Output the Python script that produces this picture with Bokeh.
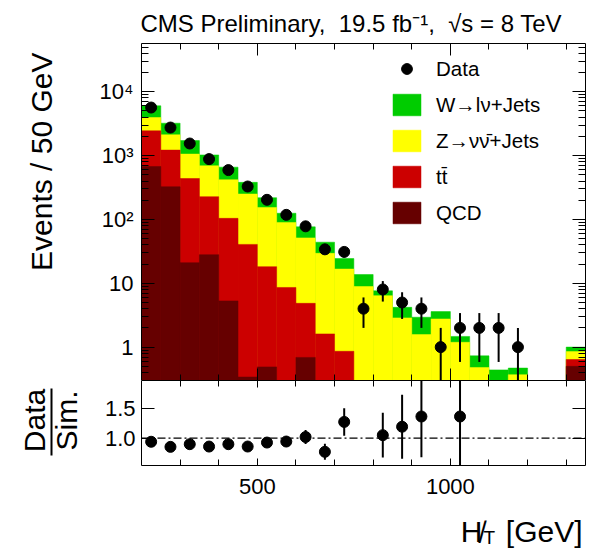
import numpy as np
from math import pi
from bokeh.plotting import figure
from bokeh.layouts import column, row
from bokeh.models import (Range1d, FixedTicker, LinearAxis, LogAxis, Legend,
                          LegendItem, Span, ColumnDataSource, NumeralTickFormatter,
                          CustomJSTickFormatter)
from bokeh.core.properties import value
from bokeh.embed import file_html
from bokeh.resources import INLINE

# ---------------- data ----------------
bin_low = [200, 250, 300, 350, 400, 450, 500, 550, 600, 650, 700, 750, 800,
           850, 900, 950, 1000, 1050, 1100, 1150, 1200, 1250, 1300]
bin_width = 50
data_counts = [5660, 2750, 1546, 881, 593, 328, 203, 118, 78, 34, 31, 4, 8,
               5, 4, 1, 2, 2, 2, 1, 0, 0, 0]
qcd = [675, 325, 21, 28, 5.3, 0.34, 0.49, 0, 0.69, 0, 0, 0, 0,
       0, 0, 0, 0, 0, 0, 0, 0, 0, 0.5]
ttbar = [1769, 894, 417, 199, 98.7, 40.3, 17.7, 8.6, 4.16, 1.61, 0.86, 0, 0,
         0, 0, 0, 0, 0, 0, 0, 0, 0, 0.14]
znunu = [1506, 898, 618, 465, 314, 209.4, 135.8, 81.1, 46.55, 27.8, 15.84, 8.9, 6.4,
         2.87, 1.57, 2.76, 1.19, 0.48, 0.30, 0.37, 0, 0, 0.21]
wlnu = [2071, 1099, 662, 332, 241, 131, 65, 35.3, 25.1, 14.6, 7.7, 4.8, 1.22,
        1.33, 1.37, 0.84, 0.28, 0.25, 0.14, 0.10, 0, 0, 0.15]

title_text = "CMS Preliminary,\u00a0 19.5 fb\u207b\u00b9,\u00a0 \u221as = 8 TeV"
legend_labels = ["Data", "W\u2192l\u03bd+Jets", "Z\u2192\u03bd\u03bd\u0304+Jets", "tt\u0304", "QCD"]
main_y_ticks = [1, 10, 100, 1000, 10000]
main_y_tick_labels = ["1", "10", "10\u00b2", "10\u00b3", "10\u2074"]
x_major_ticks = [500, 1000]
x_minor_ticks = [300, 400, 600, 700, 800, 900, 1100, 1200, 1300]
ratio_ticks = [1.0, 1.5]
y_title = "Events / 50 GeV"
ratio_title = ["Data", "Sim."]
x_title = ["H\u0338", "T", "[GeV]"]

colors = {"W": "#00cc00", "Z": "#ffff00", "TT": "#cc0000", "QCD": "#660000"}
FONT = "Liberation Sans"

# ---------------- ranges / geometry ----------------
XMIN, XMAX = 200, 1350
YMIN, YMAX = 0.3, 5.7e4
RMIN, RMAX = 0.545, 1.96
FLOOR = 1e-3
SIDE_W = 90                     # helper column holding the y titles
P1_H, P2_H, PC_H = 380, 125, 49
TOTAL_W = 596
F1_TOP, F1_BOT = 43, 380        # main frame (page y)
F2_TOP, F2_BOT = 380, 465       # ratio frame (page y)
PC_TOP = P1_H + P2_H            # x-title strip top (page y)

lo = np.array(bin_low, dtype=float)
hi = lo + bin_width
xc = lo + bin_width / 2.0
n = np.array(data_counts, dtype=float)
c_qcd = np.array(qcd, dtype=float)
c_tt = c_qcd + np.array(ttbar)
c_z = c_tt + np.array(znunu)
c_w = c_z + np.array(wlnu)

minor_log = []
for d in [0.1, 1, 10, 100, 1000, 10000]:
    for m in range(2, 10):
        minor_log.append(m * d)

blank = CustomJSTickFormatter(code="return ''")

def style_axis(ax, major_in, minor_in, labels=True, size="22px", standoff=8):
    ax.major_tick_in = major_in
    ax.major_tick_out = 0
    ax.minor_tick_in = minor_in
    ax.minor_tick_out = 0
    ax.axis_line_color = "black"
    ax.axis_line_width = 1
    ax.major_tick_line_color = "black"
    ax.minor_tick_line_color = "black"
    ax.axis_label = None
    if labels:
        ax.major_label_text_font = FONT
        ax.major_label_text_font_size = size
        ax.major_label_text_color = "black"
        ax.major_label_standoff = standoff
    else:
        ax.formatter = blank
        ax.major_label_text_font_size = "1px"
        ax.major_label_standoff = 0

def helper(width, height, frame_h):
    # helper canvas whose frame (aligned by the layout) gets pixel-like ranges
    h = figure(width=width, height=height, title=None,
               x_range=Range1d(0, width), y_range=Range1d(0, frame_h),
               x_axis_type=None, y_axis_type=None,
               min_border=0, min_border_left=0, min_border_right=0,
               min_border_top=0, min_border_bottom=0,
               output_backend="svg", toolbar_location=None)
    h.outline_line_color = None
    h.grid.visible = False
    return h

def htext(fig, x, y, text, size, align, angle=0.0):
    fig.text(x=[x], y=[y], text=[text], angle=angle, text_align=align,
             text_baseline="middle", text_font=value(FONT),
             text_font_size=value(size), text_color="black")

# ---------------- main panel ----------------
p1 = figure(width=TOTAL_W - SIDE_W, height=P1_H, x_range=Range1d(XMIN, XMAX),
            y_range=Range1d(YMIN, YMAX), y_axis_type="log",
            output_backend="svg", toolbar_location=None,
            min_border_left=141 - SIDE_W, min_border_right=TOTAL_W - 585,
            min_border_top=F1_TOP, min_border_bottom=0)
p1.xgrid.visible = False
p1.ygrid.visible = False
p1.outline_line_color = None

p1.title.text = title_text
p1.title.align = "left"
p1.title.offset = -1
p1.title.standoff = 13
p1.title.text_font = FONT
p1.title.text_font_size = "24px"
p1.title.text_font_style = "normal"
p1.title.text_color = "black"

stack_renderers = {}
for key, top in [("W", c_w), ("Z", c_z), ("TT", c_tt), ("QCD", c_qcd)]:
    m = top > 0
    src = ColumnDataSource(dict(left=lo[m], right=hi[m], top=top[m],
                                bottom=np.full(m.sum(), FLOOR)))
    stack_renderers[key] = p1.quad(left="left", right="right", top="top", bottom="bottom",
                                   source=src, fill_color=colors[key],
                                   line_color=colors[key], line_width=0.5)

md = n > 0
err = np.sqrt(n[md])
p1.segment(x0=xc[md], x1=xc[md], y0=np.maximum(n[md] - err, FLOOR), y1=n[md] + err,
           line_color="black", line_width=2)
r_data = p1.scatter(x=xc[md], y=n[md], size=11, marker="circle",
                    fill_color="black", line_color="black")

ylog_ticker = FixedTicker(ticks=main_y_ticks, minor_ticks=minor_log)
x_ticker = FixedTicker(ticks=x_major_ticks, minor_ticks=x_minor_ticks)

ly = p1.yaxis[0]
ly.ticker = ylog_ticker
ly.major_label_overrides = {t: s for t, s in zip(main_y_ticks, main_y_tick_labels)}
style_axis(ly, 13, 7, labels=True, standoff=8)

bx = p1.xaxis[0]
bx.ticker = x_ticker
style_axis(bx, 12, 6, labels=False)

ry = LogAxis(ticker=ylog_ticker)
style_axis(ry, 13, 7, labels=False)
p1.add_layout(ry, "right")
tx = LinearAxis(ticker=x_ticker)
style_axis(tx, 12, 6, labels=False)
p1.add_layout(tx, "above")

legend = Legend(items=[
    LegendItem(label=legend_labels[0], renderers=[r_data]),
    LegendItem(label=legend_labels[1], renderers=[stack_renderers["W"]]),
    LegendItem(label=legend_labels[2], renderers=[stack_renderers["Z"]]),
    LegendItem(label=legend_labels[3], renderers=[stack_renderers["TT"]]),
    LegendItem(label=legend_labels[4], renderers=[stack_renderers["QCD"]]),
], location=(248, 154), padding=0, margin=0, spacing=9, glyph_width=35,
    glyph_height=27, label_height=27, label_standoff=12, label_text_font=FONT,
    label_text_font_size="20.5px", label_text_color="black",
    background_fill_alpha=0, border_line_alpha=0)
p1.add_layout(legend)

# helper column with the main y title (its frame is aligned to page y 43..380)
pb = helper(SIDE_W, P1_H, F1_BOT - F1_TOP)
htext(pb, 41, F1_BOT - 52, y_title, "30px", "right", angle=pi / 2)

# ---------------- ratio panel ----------------
p2 = figure(width=TOTAL_W - SIDE_W, height=P2_H, x_range=p1.x_range,
            y_range=Range1d(RMIN, RMAX), output_backend="svg", toolbar_location=None,
            min_border_left=141 - SIDE_W, min_border_right=TOTAL_W - 585,
            min_border_top=0, min_border_bottom=P2_H - (F2_BOT - F2_TOP))
p2.xgrid.visible = False
p2.ygrid.visible = False
p2.outline_line_color = None

p2.add_layout(Span(location=1.0, dimension="width", line_color="black",
                   line_width=1.2, line_dash="8 3 2 3"))

mr = (n > 0) & (c_w > 0)
safe_tot = np.where(c_w > 0, c_w, 1)
ratio = np.where(mr, n / safe_tot, 0)
rerr = np.where(mr, np.sqrt(n) / safe_tot, 0)
show = mr & (ratio >= RMIN) & (ratio <= RMAX)
p2.segment(x0=xc[show], x1=xc[show], y0=ratio[show] - rerr[show],
           y1=ratio[show] + rerr[show], line_color="black", line_width=2)
p2.scatter(x=xc[show], y=ratio[show], size=11, marker="circle",
           fill_color="black", line_color="black")

r_ticker = FixedTicker(ticks=ratio_ticks, minor_ticks=[])
ly2 = p2.yaxis[0]
ly2.ticker = r_ticker
ly2.formatter = NumeralTickFormatter(format="0.0")
style_axis(ly2, 13, 7, labels=True, standoff=6)
bx2 = p2.xaxis[0]
bx2.ticker = x_ticker
style_axis(bx2, 7, 6, labels=True, standoff=13)
ry2 = LinearAxis(ticker=r_ticker)
style_axis(ry2, 13, 7, labels=False)
p2.add_layout(ry2, "right")
tx2 = LinearAxis(ticker=x_ticker)
style_axis(tx2, 7, 6, labels=False)
p2.add_layout(tx2, "above")

# helper column with the ratio y title (frame aligned to page y 380..465)
pa = helper(SIDE_W, P2_H, F2_BOT - F2_TOP)
htext(pa, 34, F2_BOT - 420, ratio_title[0], "30px", "center", angle=pi / 2)
htext(pa, 66, F2_BOT - 420, ratio_title[1], "30px", "center", angle=pi / 2)
pa.segment(x0=[51], x1=[51], y0=[F2_BOT - 388], y1=[F2_BOT - 455],
           line_color="black", line_width=2)

# helper row with the x title (full-canvas frame, page y 505..554)
pc = helper(TOTAL_W, PC_H, PC_H)
pc_bottom = PC_TOP + PC_H
htext(pc, 482, pc_bottom - 531, x_title[0], "30px", "right")
htext(pc, 483, pc_bottom - 537, x_title[1], "19px", "left")
htext(pc, 582, pc_bottom - 531, x_title[2], "30px", "right")

layout = column(row(pb, p1, spacing=0), row(pa, p2, spacing=0), pc, spacing=0)
open("out.html", "w").write(file_html(layout, INLINE))
